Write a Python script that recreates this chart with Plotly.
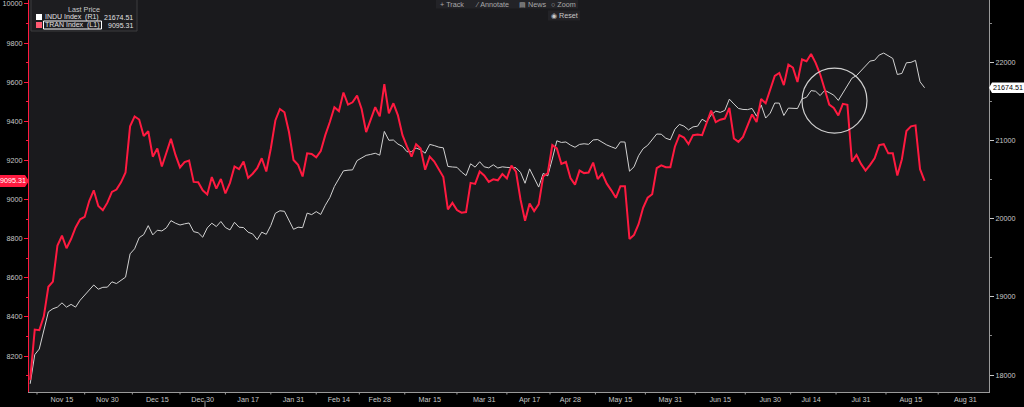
import pandas as pd
import plotly.graph_objects as go

# ---------------- data ----------------
START_DATE = "2016-11-04"
HOLIDAYS = ["2016-11-24", "2016-12-26", "2017-01-02", "2017-01-16", "2017-02-20",
            "2017-04-14", "2017-05-29", "2017-07-04", "2017-09-04"]

INDU = [
    17888, 18260, 18333, 18590, 18808, 18848, 18869, 18923, 18868, 18904, 18868, 18957, 19024, 19083, 19152, 19098, 19122, 19124,
    19192, 19170, 19216, 19252, 19550, 19615, 19757, 19796, 19911, 19793, 19852, 19843, 19883, 19975, 19942, 19919, 19934, 19945, 19834, 19820, 19763,
    19882, 19942, 19899, 19964, 19887, 19856, 19954, 19891, 19886, 19827, 19805, 19732, 19827, 19800, 19913, 20069, 20101, 20094, 19971, 19864,
    19891, 19885, 20071, 20052, 20090, 20054, 20172, 20269, 20412, 20504, 20612, 20620, 20624, 20743, 20776, 20810, 20822, 20837, 20812,
    21116, 21003, 21006, 20954, 20925, 20856, 20858, 20903, 20881, 20837, 20950, 20935, 20915, 20906, 20668, 20661, 20657, 20597, 20551, 20702, 20659, 20728, 20663,
    20650, 20689, 20648, 20663, 20656, 20658, 20651, 20592, 20453, 20637, 20523, 20404, 20579, 20548, 20764, 20996, 20975, 20981, 20941,
    20913, 20950, 20958, 20951, 21007, 21012, 20976, 20943, 20919, 20897, 20982, 20980, 20607, 20663, 20805, 20895, 20938, 21012, 21083, 21080, 21029, 21009,
    21144, 21206, 21184, 21136, 21174, 21183, 21272, 21236, 21328, 21375, 21360, 21384, 21529, 21467, 21410, 21397, 21395, 21410, 21311, 21455, 21287, 21350,
    21479, 21478, 21320, 21414, 21409, 21409, 21532, 21553, 21638, 21630, 21575, 21641, 21612, 21580, 21513, 21613, 21711, 21797, 21830, 21891,
    21964, 22016, 22026, 22093, 22118, 22085, 22049, 21844, 21858, 21994, 21999, 22025, 21751, 21674.51,
]

TRAN = [
    8078, 8335, 8332, 8403, 8554, 8580, 8765, 8815, 8751, 8798,
    8857, 8899, 8911, 8992, 9047, 8967, 8945, 8984, 9039, 9051,
    9088, 9138, 9374, 9425, 9409, 9325, 9349, 9219, 9261, 9169,
    9239, 9310, 9228, 9164, 9191, 9199, 9090, 9088, 9047, 9026,
    9115, 9056, 9105, 9031, 9085, 9169, 9155, 9194, 9110, 9132,
    9160, 9211, 9143, 9261, 9404, 9463, 9446, 9345, 9202, 9177,
    9118, 9236, 9233, 9216, 9248, 9329, 9396, 9472, 9452, 9547,
    9485, 9497, 9531, 9463, 9345, 9413, 9472, 9425, 9590, 9441,
    9492, 9430, 9329, 9270, 9219, 9283, 9261, 9152, 9219, 9194,
    9152, 9115, 8950, 8983, 8946, 8933, 8936, 9085, 9080, 9143,
    9123, 9090, 9103, 9098, 9130, 9108, 9174, 9143, 9000, 8891,
    8980, 8941, 8975, 9118, 9135, 9278, 9261, 9182, 9192, 9110,
    9076, 9148, 9135, 9138, 9189, 9105, 9132, 9081, 9047, 9009,
    9068, 9068, 8798, 8819, 8874, 8958, 9009, 9027, 9160, 9175,
    9165, 9165, 9270, 9329, 9317, 9283, 9329, 9332, 9329, 9388,
    9455, 9396, 9408, 9414, 9468, 9312, 9295, 9320, 9374, 9435,
    9396, 9514, 9492, 9564, 9632, 9647, 9585, 9690, 9674, 9601,
    9716, 9707, 9744, 9699, 9640, 9564, 9485, 9468, 9430, 9489,
    9484, 9194, 9228, 9182, 9148, 9177, 9211, 9278, 9283, 9236,
    9236, 9123, 9206, 9350, 9374, 9379, 9155, 9095.31,
]

TICK_DATES = ["2016-10-31", "2016-11-15", "2016-11-30", "2016-12-15", "2016-12-30",
              "2017-01-17", "2017-01-31", "2017-02-14", "2017-02-28", "2017-03-15",
              "2017-03-31", "2017-04-17", "2017-04-28", "2017-05-15", "2017-05-31",
              "2017-06-15", "2017-06-30", "2017-07-14", "2017-07-31", "2017-08-15",
              "2017-08-31"]
TICK_TEXT = ["Oct 31", "Nov 15", "Nov 30", "Dec 15", "Dec 30", "Jan 17", "Jan 31",
             "Feb 14", "Feb 28", "Mar 15", "Mar 31", "Apr 17", "Apr 28", "May 15",
             "May 31", "Jun 15", "Jun 30", "Jul 14", "Jul 31", "Aug 15", "Aug 31"]
YEARS = ["2016", "2017"]

# ---------------- trading-day scale ----------------
cal = [d.strftime("%Y-%m-%d") for d in pd.bdate_range("2016-10-31", "2017-09-08")]
cal = [d for d in cal if d not in HOLIDAYS]
pos = {d: i for i, d in enumerate(cal)}
i0 = pos[START_DATE]
n = min(len(INDU), len(TRAN))
DATES = cal[i0:i0 + n]
X = [pos[d] - i0 for d in DATES]
tick_pos = [pos[d] - i0 for d in TICK_DATES]
bounds = [(a + b) / 2 for a, b in zip(tick_pos[:-1], tick_pos[1:])]
year_split = pos["2016-12-30"] - i0 + 0.5

# ---------------- geometry / style ----------------
W, H = 1024, 407
PL, PR, PT, PB = 29, 989, 0, 392
STEP = 4.54
X0PX = 30.2
XR = [(PL - X0PX) / STEP, (PR - X0PX) / STEP]
YL = [8016, 10020]
YR = [17783, 22797]
RED = "#ff1a40"
WHITE = "#d2d2d2"
TXT = "#c8c8c8"
FONT = "Liberation Sans, Arial, sans-serif"
FS = 7.2
NB = "\u00a0"


def fx(px):
    return (px - PL) / (PR - PL)


def fy(py):
    return 1 - (py - PT) / (PB - PT)


def vy(v, rng):
    return (v - rng[0]) / (rng[1] - rng[0])


fig = go.Figure()
fig.add_trace(go.Scatter(x=X, y=INDU[:n], mode="lines", name="INDU Index (R1)",
                         line=dict(color=WHITE, width=1), yaxis="y"))
fig.add_trace(go.Scatter(x=X, y=TRAN[:n], mode="lines", name="TRAN Index (L1)",
                         line=dict(color=RED, width=2), yaxis="y2"))

shapes = []
ann = []

# x tick marks at half-period boundaries
for b in bounds:
    shapes.append(dict(type="line", xref="x", yref="paper", x0=b, x1=b,
                       y0=fy(PB), y1=fy(PB + 2.5), line=dict(color="#9a9a9a", width=1)))
# year separator
shapes.append(dict(type="line", xref="x", yref="paper", x0=year_split, x1=year_split,
                   y0=fy(400.5), y1=fy(408), line=dict(color="#9a9a9a", width=1)))
ann.append(dict(text=YEARS[0], xref="x", yref="paper", x=(XR[0] + year_split) / 2, y=fy(403),
                showarrow=False, font=dict(family=FONT, size=FS, color=TXT), yanchor="top"))
ann.append(dict(text=YEARS[1], xref="x", yref="paper", x=(year_split + XR[1]) / 2, y=fy(403),
                showarrow=False, font=dict(family=FONT, size=FS, color=TXT), yanchor="top"))

# highlight circle
cx, cy, r = 834.5, 100.7, 32.5
shapes.append(dict(type="circle", xref="paper", yref="paper",
                   x0=fx(cx - r), x1=fx(cx + r), y0=fy(cy + r), y1=fy(cy - r),
                   line=dict(color="#cfcfcf", width=1.2)))

# legend box
shapes.append(dict(type="rect", xref="paper", yref="paper", x0=fx(31), x1=fx(137),
                   y0=fy(31), y1=fy(-1), fillcolor="#1d1d20", line=dict(color="#3c3c3f", width=1)))
ann.append(dict(text="Last Price", xref="paper", yref="paper", x=fx(84), y=fy(9),
                showarrow=False, font=dict(family=FONT, size=FS, color=TXT),
                xanchor="center", yanchor="middle"))
shapes.append(dict(type="rect", xref="paper", yref="paper", x0=fx(36), x1=fx(42),
                   y0=fy(20), y1=fy(14), fillcolor="#ffffff", line=dict(width=0)))
shapes.append(dict(type="rect", xref="paper", yref="paper", x0=fx(36), x1=fx(42),
                   y0=fy(28), y1=fy(22), fillcolor="#ff5a72", line=dict(width=0)))
shapes.append(dict(type="rect", xref="paper", yref="paper", x0=fx(43.5), x1=fx(101.5),
                   y0=fy(29), y1=fy(21), fillcolor="rgba(0,0,0,0)", line=dict(color="#ffffff", width=1)))
for row_y, lab, val in [(17, "INDU Index" + NB + NB + "(R1)", INDU[n - 1]),
                        (25, "TRAN Index" + NB + NB + "(L1)", TRAN[n - 1])]:
    ann.append(dict(text=lab, xref="paper", yref="paper", x=fx(44.5), y=fy(row_y),
                    showarrow=False, font=dict(family=FONT, size=7, color="#e0e0e0"),
                    xanchor="left", yanchor="middle", xshift=-2))
    ann.append(dict(text=f"{val:.2f}", xref="paper", yref="paper", x=fx(133), y=fy(row_y),
                    showarrow=False, font=dict(family=FONT, size=7, color="#e0e0e0"),
                    xanchor="right", yanchor="middle", xshift=2))

# last-value tags
ty = vy(TRAN[n - 1], YL)
hh = 6 / (PB - PT)
shapes.append(dict(type="path", xref="paper", yref="paper",
                   path=f"M {fx(0)},{ty + hh} L {fx(25)},{ty + hh} L {fx(29)},{ty} L {fx(25)},{ty - hh} L {fx(0)},{ty - hh} Z",
                   fillcolor=RED, line=dict(width=0)))
ann.append(dict(text=f"{TRAN[n - 1]:.2f}", xref="paper", yref="paper", x=fx(13.5), y=ty,
                showarrow=False, font=dict(family=FONT, size=FS, color="#ffffff"),
                xanchor="center", yanchor="middle"))
iy = vy(INDU[n - 1], YR)
hh2 = 5.3 / (PB - PT)
shapes.append(dict(type="path", xref="paper", yref="paper",
                   path=f"M {fx(989)},{iy} L {fx(992)},{iy + hh2} L {fx(1024)},{iy + hh2} L {fx(1024)},{iy - hh2} L {fx(992)},{iy - hh2} Z",
                   fillcolor="#ffffff", line=dict(width=0)))
ann.append(dict(text=f"{INDU[n - 1]:.2f}", xref="paper", yref="paper", x=fx(1007.5), y=iy,
                showarrow=False, font=dict(family=FONT, size=FS, color="#000000"),
                xanchor="center", yanchor="middle"))

# toolbar
shapes.append(dict(type="rect", xref="paper", yref="paper", x0=fx(436), x1=fx(578),
                   y0=fy(8.5), y1=fy(-1), fillcolor="#232327", line=dict(width=0)))
shapes.append(dict(type="rect", xref="paper", yref="paper", x0=fx(548), x1=fx(580),
                   y0=fy(20.5), y1=fy(10.5), fillcolor="#232327", line=dict(width=0)))
for px, t in [(440, "+" + NB + "Track"), (475, "⁄" + NB + "Annotate"),
              (519, "▤" + NB + "News"), (551, "○" + NB + "Zoom")]:
    ann.append(dict(text=t, xref="paper", yref="paper", x=fx(px), y=fy(4), showarrow=False,
                    font=dict(family=FONT, size=FS, color="#a8a8a8"), xanchor="left", yanchor="middle",
                    xshift=-2))
ann.append(dict(text="◉" + NB + "Reset", xref="paper", yref="paper", x=fx(551), y=fy(15.5), showarrow=False,
                font=dict(family=FONT, size=FS, color="#c8c8c8"), xanchor="left", yanchor="middle",
                xshift=-2))

fig.update_layout(
    width=W, height=H, autosize=False,
    margin=dict(l=PL, r=W - PR, t=PT, b=H - PB, pad=0),
    paper_bgcolor="#000000", plot_bgcolor="#1a1a1d",
    showlegend=False,
    font=dict(family=FONT, size=FS, color=TXT),
    xaxis=dict(range=XR, tickmode="array", tickvals=tick_pos[1:], ticktext=TICK_TEXT[1:],
               ticks="", showgrid=False, zeroline=False, showline=True, linecolor="#9a9a9a",
               linewidth=1, tickfont=dict(family=FONT, size=FS, color=TXT)),
    yaxis=dict(range=YR, side="right", dtick=1000, ticks="outside", ticklen=4,
               tickcolor="#c8c8c8", showgrid=False, zeroline=False, showline=True,
               linecolor="#9a9a9a", linewidth=1, tickformat="d",
               minor=dict(dtick=500, ticks="outside", ticklen=2, tickcolor="#8a8a8a"),
               tickfont=dict(family=FONT, size=FS, color=TXT)),
    yaxis2=dict(range=YL, side="left", overlaying="y", dtick=200, ticks="outside", ticklen=4,
                tickcolor=RED, showgrid=False, zeroline=False, showline=True, linecolor=RED,
                linewidth=1, tickformat="d", ticklabeloverflow="allow",
                minor=dict(dtick=100, ticks="outside", ticklen=2, tickcolor=RED),
                tickfont=dict(family=FONT, size=FS, color=TXT)),
    shapes=shapes, annotations=ann,
)

fig.write_html("out.html", config={"displayModeBar": False},
               post_script="document.body.style.margin='0';document.body.style.padding='0';"
                           "document.documentElement.style.overflow='hidden';")
